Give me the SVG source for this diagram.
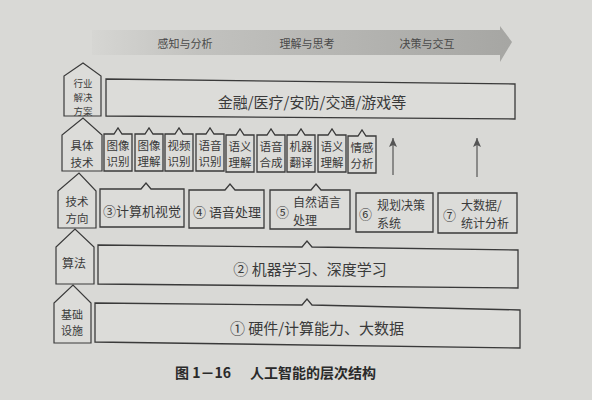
<svg xmlns="http://www.w3.org/2000/svg" width="592" height="400" viewBox="0 0 592 400">
<defs>
<linearGradient id="band" x1="0" y1="0" x2="1" y2="0">
<stop offset="0" stop-color="#d6d6d3"/>
<stop offset="0.25" stop-color="#c2c2bf"/>
<stop offset="1" stop-color="#a6a6a3"/>
</linearGradient>
<marker id="ah" markerWidth="9" markerHeight="8" refX="9" refY="4" orient="auto" markerUnits="userSpaceOnUse" viewBox="0 0 9 8">
<path d="M0,0 L9,4 L0,8 L2,4 Z" fill="#555"/>
</marker>
</defs>
<style>
.bg{fill:#d9d9d6}
.box{fill:#dcdcd9;stroke:#3a3a3a;stroke-width:1.3}
.lab{fill:#dcdcd9;stroke:#3a3a3a;stroke-width:1.2}
.t{font-family:"Noto Sans CJK SC","Noto Sans",sans-serif;fill:#3a3a3a;text-anchor:middle;dominant-baseline:central}
.xxs{font-size:9.5px}
.xs{font-size:11px}
.s{font-size:11.5px}
.s2{font-size:12px}
.m{font-size:13px}
.l{font-size:15px}
.st{text-anchor:start}
.bt{font-family:"Noto Sans CJK SC",sans-serif;font-size:11px;fill:#4a4a4a;text-anchor:middle;dominant-baseline:central}
.conn{stroke:#555;stroke-width:1.2;fill:none}
</style>
<rect class="bg" x="0" y="0" width="592" height="400"/>

<g id="banner">
<path d="M92,30 L500,30 L500,26 L512,42 L500,62 L500,55 L92,55 Z" fill="url(#band)"/>
<text class="bt" x="185" y="43">感知与分析</text>
<text class="bt" x="307" y="43">理解与思考</text>
<text class="bt" x="427" y="43">决策与交互</text>
</g>

<g id="label-industry">
<path class="lab" d="M64,116 L64,76 L83,63 L101,76 L101,116 Z"/>
<text class="t xxs" x="83" y="83">行业<tspan x="83" dy="13.8">解决</tspan><tspan x="83" dy="13.8">方案</tspan></text>
</g>
<g id="label-tech">
<path class="lab" d="M62,171 L62,135 L83,118 L102,135 L102,171 Z"/>
<text class="t s" x="82" y="145">具体<tspan x="82" dy="16.8">技术</tspan></text>
</g>
<g id="label-direction">
<path class="lab" d="M58,228 L58,191 L79,173 L96,191 L96,228 Z"/>
<text class="t s" x="77" y="201">技术<tspan x="77" dy="16.8">方向</tspan></text>
</g>
<g id="label-algo">
<path class="lab" d="M56,284 L56,247 L75,229 L94,247 L94,284 Z"/>
<text class="t s2" x="74" y="262">算法</text>
</g>
<g id="label-infra">
<path class="lab" d="M54,343 L54,303 L73,285 L91,303 L91,343 Z"/>
<text class="t xs" x="72" y="314">基础<tspan x="72" dy="16">设施</tspan></text>
</g>

<g id="industry">
<path class="box" d="M106,79 L515,84 L515,119 L106,116 Z"/>
<text class="t l" x="312" y="101">金融/医疗/安防/交通/游戏等</text>
</g>

<g id="tech-1"><path class="box" d="M104,134 L114,134 L118,128 L122,134 L132,134 L132,171 L104,171 Z"/><text class="t s" x="118" y="144.5">图像<tspan x="118" dy="16.8">识别</tspan></text></g>
<g id="tech-2"><path class="box" d="M135,134 L145,134 L149,128 L153,134 L163,134 L163,171 L135,171 Z"/><text class="t s" x="149" y="144.5">图像<tspan x="149" dy="16.8">理解</tspan></text></g>
<g id="tech-3"><path class="box" d="M165,134 L175,134 L179,128 L183,134 L193,134 L193,171 L165,171 Z"/><text class="t s" x="179" y="144.5">视频<tspan x="179" dy="16.8">识别</tspan></text></g>
<g id="tech-4"><path class="box" d="M196,134 L206,134 L210,128 L214,134 L224,134 L224,171 L196,171 Z"/><text class="t s" x="210" y="144.5">语音<tspan x="210" dy="16.8">识别</tspan></text></g>
<g id="tech-5"><path class="box" d="M226,135 L236,135 L240,129 L244,135 L254,135 L254,172 L226,172 Z"/><text class="t s" x="240" y="145.5">语义<tspan x="240" dy="16.8">理解</tspan></text></g>
<g id="tech-6"><path class="box" d="M257,135 L267,135 L271,129 L275,135 L285,135 L285,172 L257,172 Z"/><text class="t s" x="271" y="145.5">语音<tspan x="271" dy="16.8">合成</tspan></text></g>
<g id="tech-7"><path class="box" d="M287,135 L297,135 L301,129 L305,135 L315,135 L315,172 L287,172 Z"/><text class="t s" x="301" y="145.5">机器<tspan x="301" dy="16.8">翻译</tspan></text></g>
<g id="tech-8"><path class="box" d="M318,135 L328,135 L332,129 L336,135 L346,135 L346,172 L318,172 Z"/><text class="t s" x="332" y="145.5">语义<tspan x="332" dy="16.8">理解</tspan></text></g>
<g id="tech-9"><path class="box" d="M348,136 L358,136 L362,130 L366,136 L376,136 L376,173 L348,173 Z"/><text class="t s" x="362" y="146.5">情感<tspan x="362" dy="16.8">分析</tspan></text></g>

<g id="dir-3"><path class="box" d="M100,189 L141,189 L146,183 L151,189 L184,189 L184,227 L100,227 Z"/><text class="t m" x="142" y="210">③计算机视觉</text></g>
<g id="dir-4"><path class="box" d="M189,190 L225,190 L230,184 L235,190 L264,190 L264,228 L189,228 Z"/><text class="t m" x="227" y="211">④ 语音处理</text></g>
<g id="dir-5"><path class="box" d="M270,190 L311,190 L316,184 L321,190 L350,190 L350,229 L270,229 Z"/><text class="t m st" x="276" y="211">⑤</text><text class="t s2 st" x="293" y="201.5">自然语言<tspan x="293" dy="17.5">处理</tspan></text></g>
<g id="dir-6"><path class="box" d="M356,193 L433,193 L433,232 L356,232 Z"/><text class="t m st" x="359" y="213">⑥</text><text class="t s2 st" x="377" y="204">规划决策<tspan x="377" dy="17.5">系统</tspan></text></g>
<g id="dir-7"><path class="box" d="M438,193 L517,193 L517,233 L438,233 Z"/><text class="t m st" x="443" y="214">⑦</text><text class="t s2 st" x="461" y="204.5">大数据/<tspan x="461" dy="17.5">统计分析</tspan></text></g>

<g id="algo">
<path class="box" d="M98,245 L302,247 L307,241 L312,247 L518,250 L518,288 L98,284 Z"/>
<text class="t l" x="310" y="268">② 机器学习、深度学习</text>
</g>

<g id="infra">
<path class="box" d="M95,303 L302,305 L307,299 L312,305 L520,310 L520,348 L95,342 Z"/>
<text class="t l" x="317" y="327">① 硬件/计算能力、大数据</text>
</g>

<g id="connectors">
<line class="conn" x1="393" y1="175" x2="393" y2="138" marker-end="url(#ah)"/>
<line class="conn" x1="477" y1="177" x2="477" y2="138" marker-end="url(#ah)"/>
</g>

<g id="caption">
<text x="175" y="372" style="font-family:'Noto Sans CJK SC',sans-serif;font-size:14px;font-weight:bold;fill:#2a2a2a;dominant-baseline:central">图 1－16<tspan x="250">人工智能的层次结构</tspan></text>
</g>
</svg>
